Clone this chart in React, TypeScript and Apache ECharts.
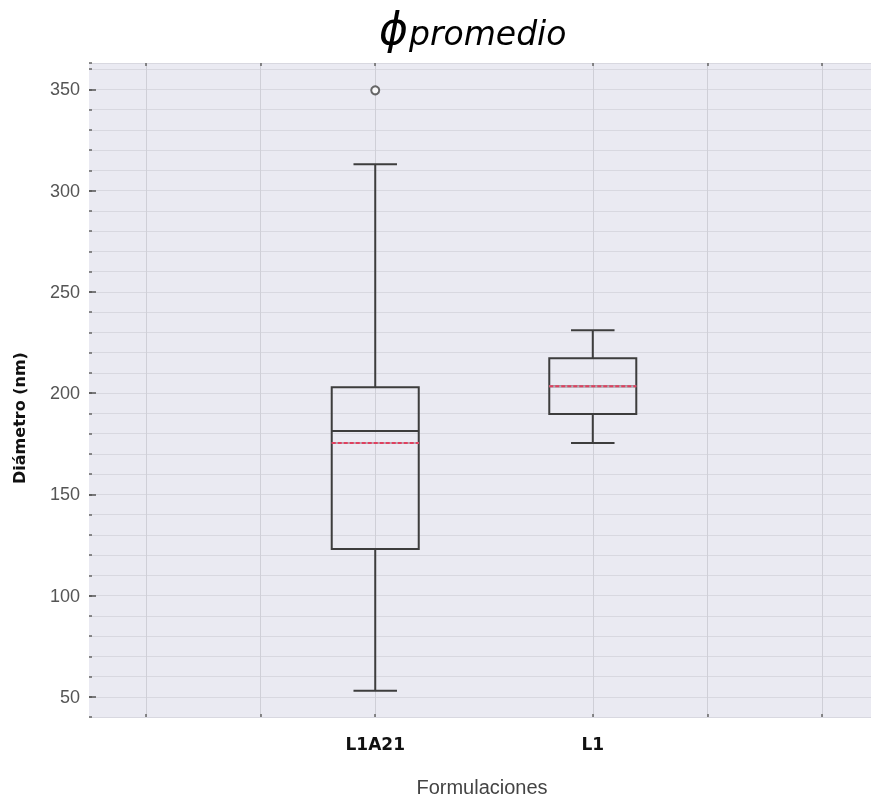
import React, { useEffect, useRef } from 'react';
import * as echarts from 'echarts';

// Formulations and where each box sits on the horizontal axis
const formulaciones = ['L1A21', 'L1'];
const posicionX = [2.5, 4.4];

// Box statistics per formulation (nm)
const bigoteInf = [53, 175.3];
const cuartil1 = [123, 189.6];
const mediana = [181.2, 203.4];
const cuartil3 = [202.9, 217.2];
const bigoteSup = [313, 231];
const promedio = [175.3, 203.4];

// Outliers: [formulation index, value]
const atipicos: [number, number][] = [[0, 349.5]];

// Axis ticks
const rejillaX = [0.5, 1.5, 2.5, 4.4, 5.4, 6.4];
const marcasY = [50, 100, 150, 200, 250, 300, 350];

const MEDIA_CAJA = 0.38;
const MEDIA_TOPE = 0.19;

export default function App() {
  const ref = useRef<HTMLDivElement>(null);

  useEffect(() => {
    if (!ref.current) return;
    const chart = echarts.init(ref.current, undefined, { renderer: 'svg' });

    const cajas = formulaciones.map((_, i) => [
      posicionX[i],
      bigoteInf[i],
      cuartil1[i],
      mediana[i],
      cuartil3[i],
      bigoteSup[i],
      promedio[i],
    ]);

    const trazo = { stroke: '#3d3d3d', lineWidth: 2, fill: 'none' };

    chart.setOption({
      animation: false,
      grid: {
        left: 89,
        right: 2,
        top: 63,
        bottom: 80,
        show: true,
        backgroundColor: '#EAEAF2',
        borderWidth: 0,
      },
      xAxis: [
        {
          type: 'value',
          min: 0,
          max: 6.83,
          axisLine: { show: false },
          axisTick: {
            show: true,
            inside: true,
            length: 3,
            customValues: rejillaX,
            lineStyle: { color: '#666', width: 1.5 },
          },
          splitLine: { show: true, lineStyle: { color: '#cfcfd7', width: 1 } },
          axisLabel: {
            customValues: posicionX,
            formatter: (v: number) => {
              const i = posicionX.findIndex((p) => Math.abs(p - v) < 1e-6);
              return i >= 0 ? formulaciones[i] : '';
            },
            margin: 18,
            color: '#111',
            fontWeight: 'bold',
            fontSize: 17,
            fontFamily: 'DejaVu Sans',
          },
        },
        {
          type: 'value',
          position: 'top',
          min: 0,
          max: 6.83,
          axisLine: { show: false },
          axisTick: {
            show: true,
            inside: true,
            length: 3,
            customValues: rejillaX,
            lineStyle: { color: '#666', width: 1.5 },
          },
          splitLine: { show: false },
          axisLabel: { show: false },
        },
      ],
      yAxis: [
        {
          type: 'value',
          min: 40,
          max: 363,
          interval: 10,
          axisLine: { show: false },
          axisTick: { show: true, inside: true, length: 3, lineStyle: { color: '#666', width: 1.5 } },
          splitLine: { show: true, lineStyle: { color: '#d8d8e0', width: 1 } },
          axisLabel: {
            customValues: marcasY,
            formatter: (v: number) => String(v),
            margin: 9,
            color: '#555',
            fontSize: 18,
            fontFamily: 'Liberation Sans',
          },
        },
        {
          type: 'value',
          min: 40,
          max: 363,
          position: 'left',
          axisLine: { show: false },
          axisTick: {
            show: true,
            inside: true,
            length: 7,
            customValues: marcasY,
            lineStyle: { color: '#555', width: 1.5 },
          },
          splitLine: { show: false },
          axisLabel: { show: false },
        },
      ],
      series: [
        {
          type: 'custom',
          xAxisIndex: 0,
          yAxisIndex: 0,
          data: cajas,
          renderItem: (_params: any, api: any) => {
            const x = api.value(0);
            const lo = api.value(1);
            const q1 = api.value(2);
            const med = api.value(3);
            const q3 = api.value(4);
            const hi = api.value(5);
            const mean = api.value(6);
            const c = (xx: number, yy: number) => api.coord([xx, yy]);
            const seg = (a: number[], b: number[], style: any) => ({
              type: 'line',
              shape: { x1: a[0], y1: a[1], x2: b[0], y2: b[1] },
              style,
            });
            const tl = c(x - MEDIA_CAJA, q3);
            const br = c(x + MEDIA_CAJA, q1);
            return {
              type: 'group',
              children: [
                seg(c(x, lo), c(x, q1), trazo),
                seg(c(x, q3), c(x, hi), trazo),
                seg(c(x - MEDIA_TOPE, lo), c(x + MEDIA_TOPE, lo), trazo),
                seg(c(x - MEDIA_TOPE, hi), c(x + MEDIA_TOPE, hi), trazo),
                {
                  type: 'rect',
                  shape: { x: tl[0], y: tl[1], width: br[0] - tl[0], height: br[1] - tl[1] },
                  style: trazo,
                },
                seg(c(x - MEDIA_CAJA, med), c(x + MEDIA_CAJA, med), trazo),
                seg(c(x - MEDIA_CAJA, mean), c(x + MEDIA_CAJA, mean), {
                  stroke: '#b9a9b4',
                  lineWidth: 2,
                }),
                seg(c(x - MEDIA_CAJA, mean), c(x + MEDIA_CAJA, mean), {
                  stroke: '#e0405f',
                  lineWidth: 2,
                  lineDash: [4, 2],
                }),
              ],
            };
          },
        },
        {
          type: 'scatter',
          xAxisIndex: 0,
          yAxisIndex: 0,
          data: atipicos.map(([i, v]) => [posicionX[i], v]),
          symbol: 'emptyCircle',
          symbolSize: 8,
          itemStyle: { color: '#444', borderColor: '#444', borderWidth: 1.5 },
        },
      ],
      graphic: [
        {
          type: 'text',
          left: 379,
          top: 6,
          style: {
            text: 'ϕ',
            font: 'italic 44px "DejaVu Sans"',
            fill: '#000',
          },
        },
        {
          type: 'text',
          left: 409,
          top: 17,
          style: {
            text: 'promedio',
            font: 'italic 33px "DejaVu Sans"',
            fill: '#000',
          },
        },
        {
          type: 'text',
          x: 482,
          y: 787,
          style: {
            text: 'Formulaciones',
            font: '20px "Liberation Sans"',
            fill: '#444',
            textAlign: 'center',
            textVerticalAlign: 'middle',
          },
        },
        {
          type: 'text',
          x: 19,
          y: 418,
          rotation: Math.PI / 2,
          style: {
            text: 'Diámetro (nm)',
            font: 'bold 16px "DejaVu Sans"',
            fill: '#111',
            textAlign: 'center',
            textVerticalAlign: 'middle',
          },
        },
      ],
    });

    return () => chart.dispose();
  }, []);

  return (
    <div
      ref={ref}
      style={{ position: 'fixed', left: 0, top: 0, width: 873, height: 797 }}
    />
  );
}
